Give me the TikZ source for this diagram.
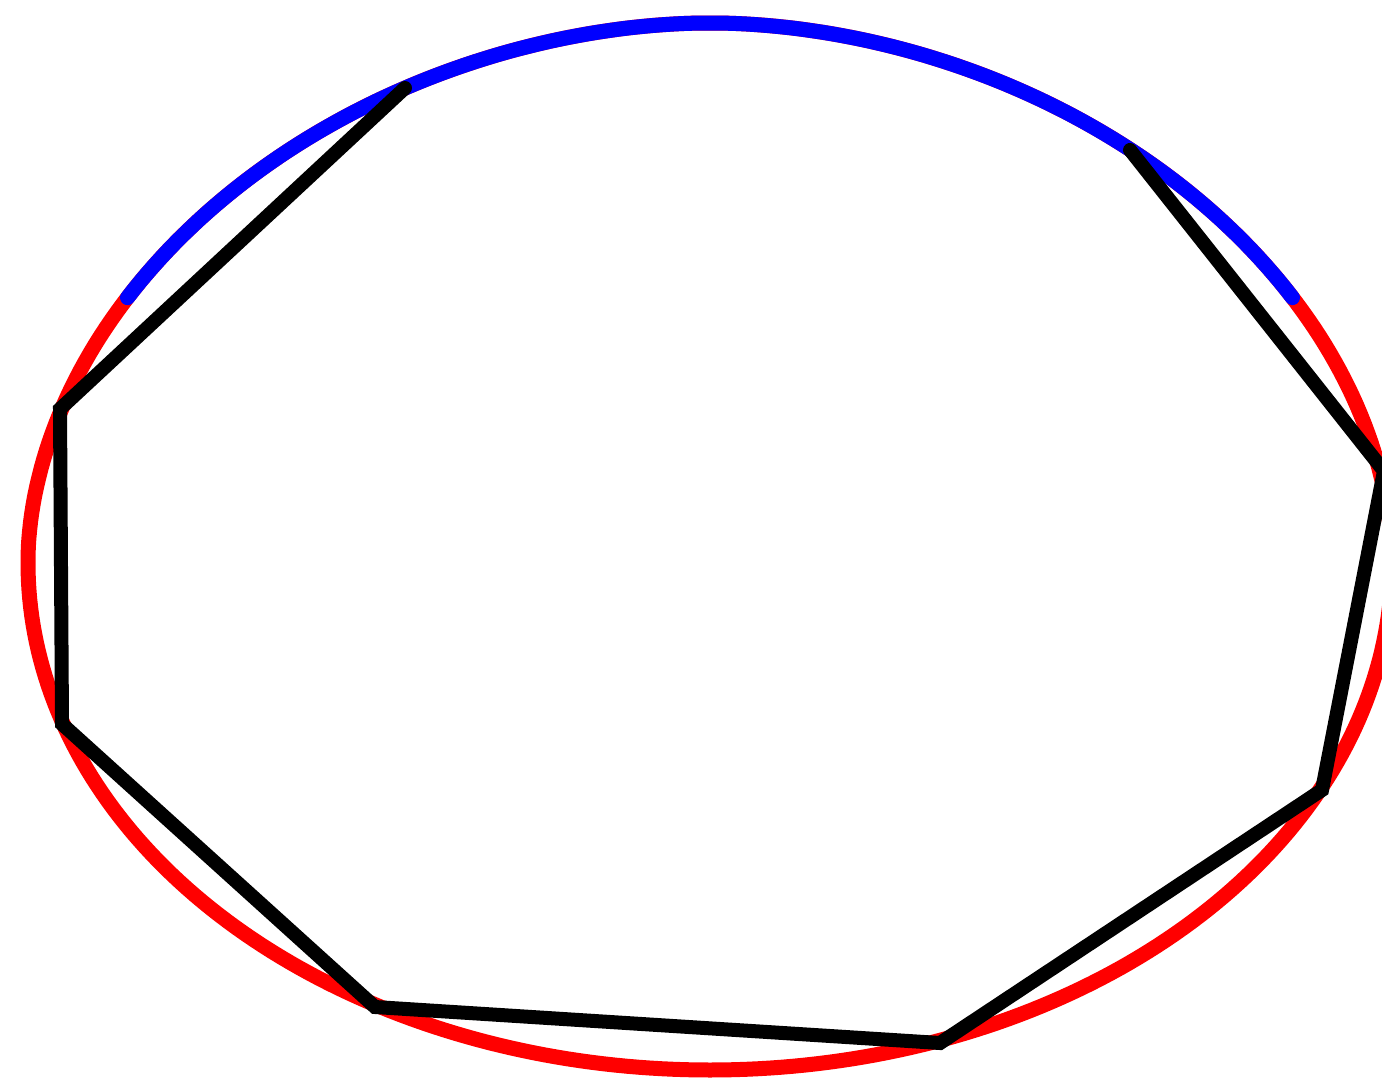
\documentclass[tikz,border=0pt]{standalone}
\begin{document}
\begin{tikzpicture}[x=1pt,y=-1pt,
  redcurve/.style={draw={rgb,255:red,255;green,0;blue,0},line width=15pt,line join=round},
  bluecurve/.style={draw={rgb,255:red,0;green,0;blue,255},line width=15pt,line cap=round,line join=round},
  polyline/.style={draw=black,line width=14pt,line cap=round,line join=miter,miter limit=20}]
\useasboundingbox (0,0) rectangle (1382,1079);
\clip (0,0) rectangle (1382,1079);
\fill[white] (0,0) rectangle (1382,1079);
\draw[redcurve]
  plot[domain=180:360, samples=181, variable=\t]
    ({710+682*cos(\t)*pow(abs(cos(\t))+0.00001,0.0526)},
     {563+540*sin(\t)*pow(abs(sin(\t))+0.00001,0.0526)})
  -- plot[domain=0:180, samples=181, variable=\t]
    ({710+682*cos(\t)}, {563+507*sin(\t)})
  -- cycle;
\draw[bluecurve]
  plot[domain=210.6:329.4, samples=120, variable=\t]
    ({710+682*cos(\t)*pow(abs(cos(\t))+0.00001,0.0526)},
     {563+540*sin(\t)*pow(abs(sin(\t))+0.00001,0.0526)});
\coordinate (p1) at (405,88);
\coordinate (p2) at (60,409);
\coordinate (p3) at (62,724);
\coordinate (p4) at (375,1007);
\coordinate (p5) at (940,1043);
\coordinate (p6) at (1322,790);
\coordinate (p7) at (1384,471);
\coordinate (p8) at (1130,150);
\draw[polyline] (p1) -- (p2) -- (p3) -- (p4) -- (p5) -- (p6) -- (p7) -- (p8);
\end{tikzpicture}
\end{document}
